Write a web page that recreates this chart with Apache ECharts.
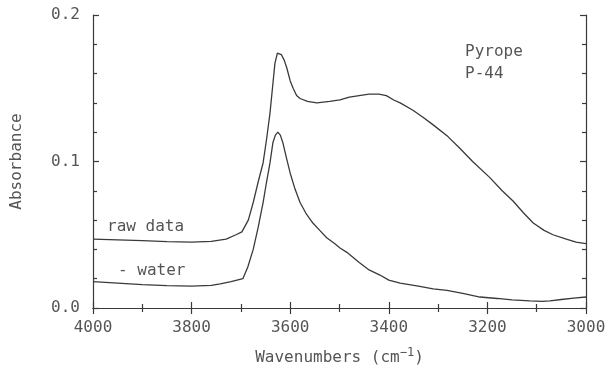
<!DOCTYPE html>
<html>
<head>
<meta charset="utf-8">
<script src="https://cdn.jsdelivr.net/npm/echarts@6/dist/echarts.min.js"></script>
<style>
  html, body { margin: 0; padding: 0; background: #fff; }
  #chart { width: 611px; height: 371px; }
</style>
</head>
<body>
<div id="chart"></div>
<script>
// wavenumber (cm-1), absorbance
const rawWave = [4000, 3950, 3900, 3850, 3800, 3760, 3730, 3710, 3698, 3685, 3675, 3665, 3655, 3648, 3641,
  3636, 3631, 3626, 3622, 3618, 3612, 3607, 3600, 3594, 3587, 3580, 3565, 3546, 3520, 3499, 3480, 3460,
  3440, 3420, 3405, 3390, 3377, 3351, 3330, 3310, 3280, 3256, 3230, 3195, 3170, 3148, 3127, 3107, 3085,
  3067, 3040, 3020, 3000];
const rawAbs = [0.047, 0.0465, 0.046, 0.0453, 0.045, 0.0455, 0.047, 0.050, 0.052, 0.060, 0.072, 0.086, 0.099,
  0.115, 0.133, 0.150, 0.167, 0.174, 0.175, 0.173, 0.169, 0.164, 0.155, 0.150, 0.145, 0.143, 0.141, 0.140,
  0.141, 0.142, 0.144, 0.145, 0.146, 0.146, 0.145, 0.142, 0.140, 0.135, 0.130, 0.125, 0.117, 0.109, 0.100,
  0.089, 0.080, 0.073, 0.065, 0.058, 0.053, 0.050, 0.047, 0.045, 0.044];

const waterWave = [4000, 3950, 3900, 3850, 3800, 3760, 3742, 3720, 3696, 3686, 3675, 3665, 3655, 3648, 3641,
  3635, 3630, 3625, 3620, 3615, 3608, 3600, 3590, 3580, 3567, 3554, 3540, 3526, 3510, 3499, 3485, 3460,
  3440, 3418, 3400, 3377, 3340, 3310, 3282, 3250, 3215, 3180, 3150, 3114, 3090, 3073, 3050, 3025, 3000];
const waterAbs = [0.018, 0.017, 0.016, 0.0153, 0.015, 0.0155, 0.0164, 0.018, 0.020, 0.028, 0.040, 0.055, 0.072,
  0.086, 0.099, 0.113, 0.118, 0.120, 0.118, 0.113, 0.103, 0.092, 0.081, 0.072, 0.064, 0.058, 0.053, 0.048,
  0.044, 0.041, 0.038, 0.031, 0.026, 0.0225, 0.019, 0.017, 0.015, 0.013, 0.012, 0.010, 0.0075, 0.0065,
  0.0055, 0.0048, 0.0045, 0.0048, 0.0058, 0.0068, 0.0075];

const FONT = '"DejaVu Sans Mono", monospace';
const INK = '#3a3a3a';
const TXT = '#555';

const pairs = (xs, ys) => xs.map((x, i) => [x, ys[i]]);

const lineCommon = { color: INK, width: 1.2 };

const chart = echarts.init(document.getElementById('chart'));
chart.setOption({
  animation: false,
  backgroundColor: '#fff',
  grid: { left: 93, right: 25, top: 15, bottom: 63 },
  xAxis: [
    {
      type: 'value', min: 3000, max: 4000, interval: 200, inverse: true,
      axisLine: { lineStyle: lineCommon },
      axisTick: { inside: true, length: 6, lineStyle: lineCommon },
      minorTick: { show: true, splitNumber: 2, length: 4, lineStyle: lineCommon },
      splitLine: { show: false },
      axisLabel: { color: TXT, fontFamily: FONT, fontSize: 16, margin: 12, showMinLabel: true, showMaxLabel: true,
        formatter: v => String(v) },
      name: '{a|Wavenumbers (cm}{s|−1}{a|)}',
      nameLocation: 'middle', nameGap: 39,
      nameTextStyle: {
        rich: {
          a: { color: TXT, fontFamily: FONT, fontSize: 16 },
          s: { color: TXT, fontFamily: FONT, fontSize: 12, padding: [0, 0, 10, 0] }
        }
      }
    },
    {
      type: 'value', min: 3000, max: 4000, interval: 200, inverse: true, position: 'top',
      axisLine: { lineStyle: lineCommon },
      axisTick: { inside: true, length: 6, lineStyle: lineCommon },
      minorTick: { show: true, splitNumber: 2, length: 4, lineStyle: lineCommon },
      splitLine: { show: false },
      axisLabel: { show: false }
    }
  ],
  yAxis: [
    {
      type: 'value', min: 0, max: 0.2, interval: 0.1,
      axisLine: { show: true, lineStyle: lineCommon },
      axisTick: { show: true, inside: true, length: 6, lineStyle: lineCommon },
      minorTick: { show: true, splitNumber: 5, length: 4, lineStyle: lineCommon },
      splitLine: { show: false },
      axisLabel: { color: TXT, fontFamily: FONT, fontSize: 16, margin: 13, formatter: v => v.toFixed(1) },
      name: 'Absorbance', nameLocation: 'middle', nameGap: 68,
      nameTextStyle: { color: TXT, fontFamily: FONT, fontSize: 16 }
    },
    {
      type: 'value', min: 0, max: 0.2, interval: 0.1, position: 'right',
      axisLine: { show: true, lineStyle: lineCommon },
      axisTick: { show: true, inside: true, length: 6, lineStyle: lineCommon },
      minorTick: { show: true, splitNumber: 5, length: 4, lineStyle: lineCommon },
      splitLine: { show: false },
      axisLabel: { show: false }
    }
  ],
  graphic: [
    { type: 'text', left: 465, top: 44, style: { text: 'Pyrope', fill: TXT, font: '16px ' + FONT } },
    { type: 'text', left: 465, top: 66, style: { text: 'P-44', fill: TXT, font: '16px ' + FONT } },
    { type: 'text', left: 107, top: 219, style: { text: 'raw data', fill: TXT, font: '16px ' + FONT } },
    { type: 'text', left: 118, top: 263, style: { text: '- water', fill: TXT, font: '16px ' + FONT } }
  ],
  series: [
    {
      name: 'raw data', type: 'line', showSymbol: false,
      lineStyle: { color: INK, width: 1.3 },
      data: pairs(rawWave, rawAbs)
    },
    {
      name: '- water', type: 'line', showSymbol: false,
      lineStyle: { color: INK, width: 1.3 },
      data: pairs(waterWave, waterAbs)
    }
  ]
});
</script>
</body>
</html>
